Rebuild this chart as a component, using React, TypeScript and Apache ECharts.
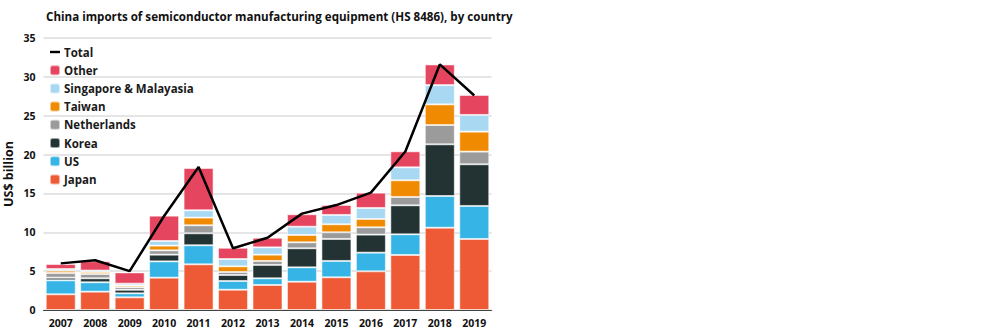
import React, { useEffect, useRef } from "react";
import * as echarts from "echarts";

const years = ["2007", "2008", "2009", "2010", "2011", "2012", "2013", "2014", "2015", "2016", "2017", "2018", "2019"];
const japan = [2.02, 2.36, 1.63, 4.16, 5.88, 2.61, 3.22, 3.64, 4.21, 4.98, 7.08, 10.59, 9.14];
const us = [1.8, 1.21, 0.51, 2.1, 2.45, 1.12, 0.86, 1.85, 2.1, 2.4, 2.66, 4.08, 4.25];
const korea = [0.34, 0.51, 0.45, 0.86, 1.54, 0.77, 1.72, 2.45, 2.83, 2.32, 3.73, 6.65, 5.36];
const netherlands = [0.6, 0.55, 0.35, 0.56, 1.03, 0.39, 0.51, 0.77, 0.86, 0.94, 1.07, 2.48, 1.63];
const taiwan = [0.3, 0.25, 0.2, 0.6, 0.99, 0.73, 0.81, 0.94, 1.03, 1.07, 2.15, 2.66, 2.57];
const singapore = [0.2, 0.2, 0.25, 0.6, 0.94, 0.94, 0.94, 1.07, 1.2, 1.42, 1.67, 2.48, 2.15];
const other = [0.65, 1.2, 1.45, 3.26, 5.44, 1.45, 1.24, 1.6, 1.29, 1.97, 2.06, 2.66, 2.57];
const total = [6.0, 6.4, 5.0, 12.1, 18.4, 7.95, 9.3, 12.4, 13.5, 15.1, 20.4, 31.6, 27.6];
const yTicks = [0, 5, 10, 15, 20, 25, 30, 35];

const FONT = "Open Sans";

export default function App() {
  const ref = useRef<HTMLDivElement>(null);
  useEffect(() => {
    document.body.style.margin = "0";
    const chart = echarts.init(ref.current!, null, { renderer: "svg" });
    const bar = (name: string, data: number[], color: string) => ({
      name,
      type: "bar",
      stack: "c",
      data,
      barWidth: 30,
      itemStyle: { color, borderColor: "rgba(255,255,255,0.55)", borderWidth: 1 },
    });
    chart.setOption({
      animation: false,
      textStyle: { fontFamily: FONT },
      title: {
        text: "China imports of semiconductor manufacturing equipment (HS 8486), by country",
        left: 41,
        top: 5,
        textStyle: { fontFamily: FONT, fontWeight: "bold", fontSize: 11.6, color: "#111" },
      },
      legend: {
        orient: "vertical",
        left: 44,
        top: 41,
        itemWidth: 10,
        itemHeight: 10,
        itemGap: 6.2,
        textStyle: { fontFamily: FONT, fontWeight: "bold", fontSize: 11.5, color: "#1a1a1a", padding: [0, 0, 0, -1] },
        data: [
          { name: "Total", icon: "path://M0,0H10V2.4H0Z" },
          "Other",
          "Singapore & Malayasia",
          "Taiwan",
          "Netherlands",
          "Korea",
          "US",
          "Japan",
        ],
      },
      grid: { left: 43.5, right: 508.5, top: 38, bottom: 22, containLabel: false },
      xAxis: {
        type: "category",
        data: years,
        axisTick: { show: false },
        axisLine: { lineStyle: { color: "#444", width: 1 } },
        axisLabel: { fontFamily: FONT, fontWeight: "bold", fontSize: 10.5, color: "#111", margin: 7 },
      },
      yAxis: {
        type: "value",
        min: yTicks[0],
        max: yTicks[yTicks.length - 1],
        interval: 5,
        name: "US$ billion",
        nameLocation: "middle",
        nameGap: 29,
        nameTextStyle: { fontFamily: FONT, fontWeight: "bold", fontSize: 12.5, color: "#111" },
        axisLine: { show: false },
        axisTick: { show: false },
        axisLabel: { fontFamily: FONT, fontWeight: "bold", fontSize: 10.5, color: "#111", margin: 8 },
        splitLine: { lineStyle: { color: "#dcdcdc", width: 1.5 } },
      },
      series: [
        bar("Japan", japan, "#EE5A36"),
        bar("US", us, "#36B4E5"),
        bar("Korea", korea, "#233333"),
        bar("Netherlands", netherlands, "#9B9B9B"),
        bar("Taiwan", taiwan, "#F08A00"),
        bar("Singapore & Malayasia", singapore, "#A9D8F2"),
        bar("Other", other, "#E6455F"),
        {
          name: "Total",
          type: "line",
          data: total,
          symbol: "none",
          lineStyle: { color: "#000", width: 2.5 },
          itemStyle: { color: "#000" },
          z: 10,
        },
      ],
    });
    return () => chart.dispose();
  }, []);
  return <div ref={ref} style={{ width: 1000, height: 332 }} />;
}
